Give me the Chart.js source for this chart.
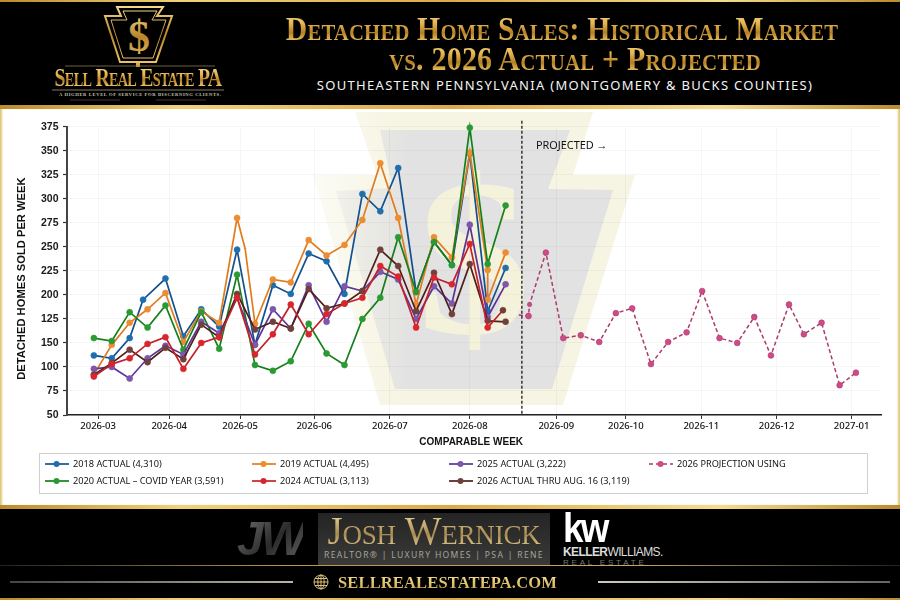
<!DOCTYPE html>
<html><head><meta charset="utf-8">
<script src="https://cdn.jsdelivr.net/npm/chart.js@4"></script>
<style>
html,body{margin:0;padding:0;background:#000}
#stage{position:relative;width:900px;height:600px;overflow:hidden;background:#000;font-family:"Liberation Sans",sans-serif}
.abs{position:absolute;white-space:nowrap}
.gold{background:linear-gradient(180deg,#f6dc8c 0%,#e4b450 35%,#b57f22 60%,#eec768 85%,#c9962f 100%);-webkit-background-clip:text;background-clip:text;color:transparent}
.band{background:linear-gradient(90deg,#b98c2c,#f0d27a 20%,#d9ab45 50%,#f4dc8e 80%,#b98c2c)}
#panel{position:absolute;left:0;top:109px;width:900px;height:396px;background:#fff;box-shadow:inset 3px 0 2px -1px #e0c877,inset -3px 0 2px -1px #e0c877}
#wm{position:absolute;left:0;top:0}
#chartBox{position:absolute;left:0;top:109px;width:900px;height:396px}
#legend{position:absolute;left:39px;top:453px;width:827px;height:39px;border:1px solid #cfcfcf;background:rgba(255,255,255,.9);font:9.2px "Noto Sans",sans-serif;color:#151515}
.li{position:absolute;white-space:nowrap;line-height:12px}
.li svg{position:absolute;left:-28px;top:0}
</style></head>
<body><div id="stage">
  <div class="band abs" style="left:0;top:0;width:900px;height:2px"></div>
  <div class="band abs" style="left:0;top:105px;width:900px;height:4px"></div>
  <div class="band abs" style="left:0;top:505px;width:900px;height:4px"></div>
  <div class="band abs" style="left:0;top:598px;width:900px;height:2px"></div>

  <svg class="abs" style="left:0;top:0" width="260" height="105" viewBox="0 0 260 105">
    <defs><linearGradient id="lg" x1="0" y1="0" x2="0" y2="1"><stop offset="0" stop-color="#f4d88a"/><stop offset=".5" stop-color="#b9852a"/><stop offset="1" stop-color="#e9c066"/></linearGradient></defs>
    <polygon points="117,7 163,7 157,16 172,16 156,62 120,62 105,16 121,16" fill="none" stroke="url(#lg)" stroke-width="2"/>
    <polygon points="123,11 157,11 152,20 166,20 153,58 123,58 111,20 127,20" fill="none" stroke="url(#lg)" stroke-width="1"/>
    <text x="139" y="51" text-anchor="middle" font-family="Liberation Serif" font-weight="bold" font-size="44" fill="url(#lg)">$</text>
    <rect x="136" y="63" width="4" height="4" fill="#d9ab45"/>
    <line x1="65" y1="66" x2="215" y2="66" stroke="#8a7a50" stroke-width=".8"/>
    <line x1="52" y1="90" x2="224" y2="90" stroke="#a79a78" stroke-width=".8"/>
    <line x1="70" y1="100" x2="120" y2="100" stroke="#6b5f3c" stroke-width=".6"/>
    <line x1="156" y1="100" x2="206" y2="100" stroke="#6b5f3c" stroke-width=".6"/>
  </svg>
  <div class="abs gold" style="left:18px;top:66px;width:240px;text-align:center;font:bold 25px/24px 'Liberation Serif',serif;font-variant:small-caps;letter-spacing:-.9px;transform:scaleX(.79)">Sell Real Estate PA</div>
  <div class="abs" style="left:59px;top:92px;width:160px;text-align:center;font:bold 4.6px/6px 'Liberation Serif',serif;letter-spacing:.62px;color:#c9c4b2">A HIGHER LEVEL OF SERVICE FOR DISCERNING CLIENTS.</div>

  <div class="abs gold" style="left:232px;width:660px;top:11px;text-align:center;font:bold 33px/36px 'Liberation Serif',serif;font-variant:small-caps;letter-spacing:.2px;transform:scaleX(.9)">Detached Home Sales: Historical Market</div>
  <div class="abs gold" style="left:244.5px;width:660px;top:41px;text-align:center;font:bold 33px/36px 'Liberation Serif',serif;font-variant:small-caps;letter-spacing:.2px;transform:scaleX(.91)">vs. 2026 Actual + Projected</div>
  <div class="abs" style="left:265px;width:600px;top:77px;text-align:center;font:13px/16px 'Noto Sans',sans-serif;letter-spacing:1.3px;color:#f4f4f4">SOUTHEASTERN PENNSYLVANIA (MONTGOMERY &amp; BUCKS COUNTIES)</div>

  <div id="panel"></div>
  <svg id="wm" class="abs" width="900" height="600" viewBox="0 0 900 600">
    <defs>
      <clipPath id="panelClip"><rect x="0" y="109" width="900" height="396"/></clipPath>
      <linearGradient id="cream" x1="313" y1="0" x2="400" y2="0" gradientUnits="userSpaceOnUse"><stop offset="0" stop-color="#f6f4e2" stop-opacity=".35"/><stop offset="1" stop-color="#f6f4e2"/></linearGradient>
      <linearGradient id="slate" x1="336" y1="0" x2="410" y2="0" gradientUnits="userSpaceOnUse"><stop offset="0" stop-color="#e4e4e4" stop-opacity=".4"/><stop offset="1" stop-color="#e2e2e2"/></linearGradient>
    </defs>
    <g clip-path="url(#panelClip)">
      <polygon fill="url(#cream)" points="355,112 593,112 573,175 635,175 563,405 380,405 313,175 377,175"/>
      <polygon fill="url(#slate)" points="380,130 570,130 548,189 613,190 552,389 395,389 336,191 393,188"/>
      <text x="474" y="333" text-anchor="middle" font-family="Liberation Serif" font-weight="bold" font-size="225" fill="#f5f2dc">$</text>
    </g>
  </svg>
  <div id="chartBox"><canvas id="c" width="900" height="396"></canvas></div>
  <div id="legend"></div>

  <div class="abs" style="left:318px;top:513px;width:232px;height:52px;background:linear-gradient(180deg,#242424,#3a3a38)"></div>
  <div class="abs" style="left:237px;top:512px;font:italic bold 48px/54px 'Liberation Sans',sans-serif;letter-spacing:-3px;background:linear-gradient(135deg,#777,#2b2b2b 55%,#666);-webkit-background-clip:text;background-clip:text;color:transparent">JW</div>
  <div class="abs" style="left:288px;width:292px;top:515px;text-align:center;font:39px/32px 'Liberation Serif',serif;font-variant:small-caps;letter-spacing:-.2px;background:linear-gradient(180deg,#e6cf95,#a88a50 60%,#e0c88c);-webkit-background-clip:text;background-clip:text;color:transparent">Josh Wernick</div>
  <div class="abs" style="left:318px;width:232px;top:549px;text-align:center;font:8.6px/12px 'Noto Sans',sans-serif;letter-spacing:1.3px;color:#a5a49c">REALTOR® | LUXURY HOMES | PSA | RENE</div>
  <div class="abs" style="left:563px;top:508px;font:bold 40px/40px 'Liberation Sans',sans-serif;letter-spacing:-3px;color:#fff;transform:scaleX(.92);transform-origin:left">kw</div>
  <div class="abs" style="left:563px;top:545px;font:12px/14px 'Liberation Sans',sans-serif;letter-spacing:-.6px;color:#ddd"><b>KELLER</b>WILLIAMS.</div>
  <div class="abs" style="left:563px;top:558px;font:8px/10px 'Liberation Sans',sans-serif;letter-spacing:2.8px;color:#777">REAL ESTATE</div>
  <div class="abs" style="left:0;top:565px;width:900px;height:1px;background:linear-gradient(90deg,#222,#b4934a 30%,#c9a860 70%,#222)"></div>
  <div class="abs" style="left:10px;top:581px;width:283px;height:2px;background:linear-gradient(90deg,#444,#b8b3a3)"></div>
  <div class="abs" style="left:598px;top:581px;width:292px;height:2px;background:linear-gradient(90deg,#cfcabc,#666)"></div>
  <svg class="abs" style="left:313px;top:574px" width="16" height="16" viewBox="0 0 16 16" fill="none" stroke="#d9c27c" stroke-width="1"><circle cx="8" cy="8" r="7"/><ellipse cx="8" cy="8" rx="3.2" ry="7"/><line x1="1" y1="8" x2="15" y2="8"/><line x1="2" y1="4.5" x2="14" y2="4.5"/><line x1="2" y1="11.5" x2="14" y2="11.5"/><line x1="8" y1="1" x2="8" y2="15"/></svg>
  <div class="abs" style="left:338px;top:573px;font:bold 16.5px/20px 'Liberation Serif',serif;letter-spacing:.15px;background:linear-gradient(180deg,#f7e59a,#c9a244);-webkit-background-clip:text;background-clip:text;color:transparent">SELLREALESTATEPA.COM</div>
</div>
<script>
// ---- tick labels (top to bottom) ----
const yTickLabels = ["375","350","325","300","275","250","225","200","125","150","100","75","50"];
const monthLabels = ["2026-03","2026-04","2026-05","2026-06","2026-07","2026-08","2026-09","2026-10","2026-11","2026-12","2027-01"];
const monthWeeks  = [0.24,4.21,8.17,12.31,16.54,21,25.83,29.72,33.93,38.14,42.33];

// ---- weeks of the actual series ----
const weeks       = [0,1,2,3,4,5,6,7,8,9,10,11,12,13,14,15,16,17,18,19,20,21,22,23];
const weeks2018   = [0,1,2,2.75,4,5,6,7,8,9,10,11,12,13,14,15,16,17,18,19,20,21,22,23];
const weeks2019   = [0,1,2,3,4,5,6,7,8,8.45,9,10,11,12,13,14,15,16,17,18,19,20,21,22,22,23];
const weeks2024   = [0,1,2,3,4,5,6,7,8,9,10,11,12,13,14,15,16,17,18,19,20,21,22,22.85];

// ---- values ----
const v2018 = [137,134,155,195,217,157,185,167,247,148,210,201,243,235,201,305,287,332,203,255,231,347,183,228];
const v2019 = [117,148,171,185,202,151,183,171,280,248,170,216,213,257,241,252,278,337,280,190,260,239,348,226,195,244];
const v2020 = [155,152,182,166,189,143,182,144,221,127,121,131,170,139,127,175,197,260,203,255,231,374,232,293];
const v2025 = [123,125,113,134,147,138,172,160,197,148,185,165,210,172,209,204,224,216,175,209,191,273,177,211];
const v2024 = [115,128,134,149,156,123,150,156,197,138,159,190,159,180,191,197,230,219,166,218,211,253,166,184];
const v2026 = [117,129,143,130,145,133,169,156,201,164,172,165,206,186,191,204,247,230,183,223,180,232,173,172];
const projWeeks = [23.74,24.28,24.34,25.25,26.22,27.2,28.23,29.16,30.07,31.12,32.08,33.11,33.98,34.95,35.94,36.89,37.82,38.83,39.66,40.65,41.66,42.57];
const vProj = [179,178,190,244,155,158,151,181,186,128,151,161,204,155,150,177,137,190,159,171,106,119];

// ---- names (legend text) ----
const n2018 = "2018 ACTUAL (4,310)", n2019 = "2019 ACTUAL (4,495)", n2020 = "2020 ACTUAL – COVID YEAR (3,591)";
const n2025 = "2025 ACTUAL (3,222)", n2024 = "2024 ACTUAL (3,113)", n2026 = "2026 ACTUAL THRU AUG. 16 (3,119)", nProj = "2026 PROJECTION USING";
const projectedLabel = "PROJECTED →";
const projectedStartWeek = 23.91;

const pts = (xs, ys) => xs.map((x, i) => ({x, y: ys[i]}));
const mk = (label, data, line, fill, extra) => Object.assign({
  label, data, borderColor: line, backgroundColor: fill, pointBackgroundColor: fill,
  pointBorderColor: fill, borderWidth: 1.7, pointRadius: 3, pointBorderWidth: 0.6,
  tension: 0, fill: false, clip: false
}, extra || {});

const brownFill = "#70403a";
const datasets = [
  mk(n2018, pts(weeks2018, v2018), "#12508f", "#1f6fae"),
  mk(n2019, pts(weeks2019, v2019), "#e07c1e", "#ee8c30", {pointRadius: c => c.raw && c.raw.x === 8.45 ? 1 : 3}),
  mk(n2020, pts(weeks, v2020), "#15801a", "#2c9a34"),
  mk(n2025, pts(weeks, v2025), "#5a3596", "#7d56ad"),
  mk(n2026, pts(weeks, v2026), "#4e1f1c", brownFill),
  mk(n2024, pts(weeks2024, v2024), "#c4202b", "#d8262f", {pointBackgroundColor: c => c.dataIndex === v2024.length - 1 ? brownFill : "#d8262f", pointBorderColor: c => c.dataIndex === v2024.length - 1 ? brownFill : "#d8262f"}),
  mk(nProj, pts(projWeeks, vProj), "#ab3a6e", "#cf4b85", {
    borderDash: [4, 2.6], borderWidth: 1.5, pointBorderColor: "#ab3a6e",
    pointRadius: c => c.dataIndex === 0 ? 0 : (c.dataIndex === 2 ? 2.2 : 2.9)
  })
];
// later entries paint on top
datasets.forEach((d, i) => { d.order = datasets.length - i; });

const projectedPlugin = {
  id: "projected",
  afterDatasetsDraw(chart) {
    const {ctx, chartArea, scales} = chart;
    const x = scales.x.getPixelForValue(projectedStartWeek);
    ctx.save();
    ctx.strokeStyle = "#1a1a1a"; ctx.lineWidth = 1.3; ctx.setLineDash([3, 2]);
    ctx.beginPath(); ctx.moveTo(x, chartArea.top - 6); ctx.lineTo(x, chartArea.bottom); ctx.stroke();
    ctx.setLineDash([]);
    ctx.fillStyle = "#111"; ctx.font = "10.9px 'Noto Sans'"; ctx.textBaseline = "middle";
    ctx.fillText(projectedLabel, x + 14, chartArea.top + 19.5);
    ctx.restore();
  }
};

const chart = new Chart(document.getElementById("c"), {
  type: "line",
  data: {datasets},
  plugins: [projectedPlugin],
  options: {
    responsive: false, animation: false, parsing: false, normalized: false,
    layout: {padding: {left: 0, right: 19, top: 17.7, bottom: 57}},
    plugins: {legend: {display: false}, title: {display: false}, tooltip: {enabled: false}},
    scales: {
      x: {
        type: "linear", min: -1.5, max: 43.97,
        afterBuildTicks: s => { s.ticks = monthWeeks.map(value => ({value})); },
        afterFit: s => { s.height = 33; },
        grid: {color: "rgba(0,0,0,.035)", tickColor: "#333", tickLength: 4, tickWidth: 1},
        border: {color: "#222", width: 1.5},
        ticks: {
          autoSkip: false, maxRotation: 0, padding: 2, color: "#111",
          font: {family: "Noto Sans", size: 9.5, weight: "500"},
          callback: v => monthLabels[monthWeeks.indexOf(v)]
        },
        title: {display: true, text: "COMPARABLE WEEK  ", color: "#111", padding: {top: 0, bottom: 0},
          font: {family: "Liberation Sans", size: 10, weight: "bold"}}
      },
      y: {
        type: "linear", min: 75, max: 375,
        afterFit: s => { s.width = 67; },
        grid: {color: "rgba(0,0,0,.035)", tickColor: "#333", tickLength: 4, tickWidth: 1.2},
        border: {color: "#444", width: 2},
        ticks: {
          stepSize: 25, padding: 4.5, color: "#1a1a1a",
          font: {family: "Liberation Sans", size: 10.5, weight: "bold"},
          callback: v => yTickLabels[(375 - v) / 25]
        },
        title: {display: true, text: "DETACHED HOMES SOLD PER WEEK     ", color: "#111", padding: {top: 15, bottom: 0},
          font: {family: "Liberation Sans", size: 11.2, weight: "bold"}}
      }
    }
  }
});

// ---- legend built from the chart's datasets, row by row ----
const legendRows = [[n2018, n2019, n2025, nProj], [n2020, n2024, n2026]];
const legendCols = [33, 240, 437, 637];
const legend = document.getElementById("legend");
legendRows.forEach((row, r) => row.forEach((name, c) => {
  const d = datasets.find(s => s.label === name);
  const el = document.createElement("div");
  el.className = "li";
  el.style.left = legendCols[c] + "px";
  el.style.top = (4 + r * 16.6) + "px";
  const dash = d.borderDash ? ' stroke-dasharray="4 3"' : "";
  const fill = typeof d.backgroundColor === "string" ? d.backgroundColor : "#000";
  el.innerHTML = `<svg width="24" height="12"><line x1="0" y1="6" x2="24" y2="6" stroke="${d.borderColor}" stroke-width="1.7"${dash}/><circle cx="11.5" cy="6" r="3" fill="${fill}"/></svg>`;
  el.appendChild(document.createTextNode(name));
  legend.appendChild(el);
}));
</script>
</body></html>
